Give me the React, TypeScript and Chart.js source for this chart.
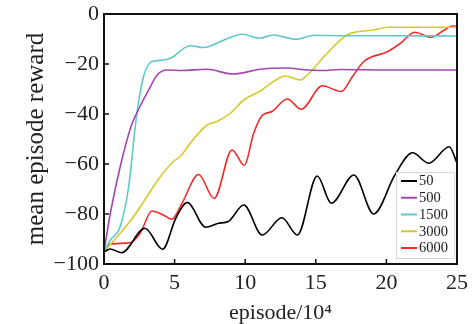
import React, { useEffect, useRef } from "react";
import { Chart, registerables } from "chart.js";

Chart.register(...registerables);

const seriesLabels = ["50", "500", "1500", "3000", "6000"];
const seriesColors = ["#000000", "#a446ad", "#5ec9c9", "#d6c92e", "#f42a2a"];

const x50 = [0, 0.43, 1.25, 2.9, 4.15, 5.1, 5.9, 7.2, 8.1, 8.8, 9.9, 11.2, 12.6, 13.7, 15.1, 16.1, 17.7, 19.1, 20.6, 21.85, 23.0, 24.45, 25];
const y50 = [-95.3, -94.0, -95.5, -85.7, -94.1, -81.5, -75.4, -85.3, -83.7, -83.0, -76.4, -88.4, -81.5, -88.4, -64.8, -75.7, -64.4, -80.0, -64.4, -55.5, -59.7, -53.1, -59.6];

const x500 = [0, 0.45, 1.15, 1.95, 2.55, 3.2, 3.75, 4.45, 5.5, 7.3, 9.1, 11.2, 13.0, 14.0, 15.5, 16.7, 20, 25];
const y500 = [-95, -79.7, -61, -44.4, -37, -30, -24.5, -22.4, -22.6, -22.1, -24, -22, -21.6, -22.2, -22.6, -22.2, -22.4, -22.4];

const x1500 = [0, 0.45, 1.15, 1.75, 2.3, 2.8, 3.3, 3.6, 4.7, 6.1, 7.05, 8.5, 9.8, 11.0, 12.0, 13.6, 14.9, 17, 20, 25];
const y1500 = [-95, -90.4, -85, -69, -41, -25, -19.3, -18.8, -17.7, -12.7, -13.4, -10.4, -8.1, -9.7, -8.4, -10.1, -8.5, -8.7, -8.7, -8.8];

const x3000 = [0, 1.15, 2.1, 4.0, 4.92, 5.4, 6.2, 7.3, 8.0, 8.95, 9.9, 11.1, 12.0, 12.85, 13.9, 14.4, 15.8, 17.2, 17.95, 19.1, 20.1, 25];
const y3000 = [-95, -87.7, -81, -65, -59, -57, -51, -44.4, -43, -39.7, -34.4, -30.7, -27, -24.8, -26.4, -24.4, -15.7, -8.4, -7.1, -6.4, -5.3, -5.3];

const x6000 = [0, 0.43, 1.85, 2.56, 3.4, 4.2, 4.8, 5.5, 6.7, 7.8, 9.07, 9.94, 10.6, 11.2, 11.9, 12.97, 13.97, 15.46, 16.8, 17.6, 18.4, 20.1, 21.0, 22.0, 23.15, 24.1, 24.7, 25];
const y6000 = [-95, -92.1, -91.5, -87.7, -78.8, -80.4, -82.1, -76, -64.2, -73.8, -54.4, -60.5, -47.7, -40.6, -39, -34, -38.1, -28.7, -31, -25, -19, -15, -11.7, -7.3, -9.3, -6.4, -4.7, -5];

const xTickValues = [0, 5, 10, 15, 20, 25];
const yTickValues = [0, -20, -40, -60, -80, -100];

const seriesX = [x50, x500, x1500, x3000, x6000];
const seriesY = [y50, y500, y1500, y3000, y6000];

const FONT = "'Liberation Serif', 'Times New Roman', serif";

const framePlugin = {
  id: "frameAndLegend",
  afterDatasetsDraw(chart: any) {
    const { ctx, chartArea: a, scales } = chart;
    ctx.save();
    // inward ticks
    ctx.strokeStyle = "#111";
    ctx.lineWidth = 1.5;
    ctx.beginPath();
    for (const v of xTickValues) {
      const px = scales.x.getPixelForValue(v);
      ctx.moveTo(px, a.bottom);
      ctx.lineTo(px, a.bottom - 5);
    }
    for (const v of yTickValues) {
      const py = scales.y.getPixelForValue(v);
      ctx.moveTo(a.left, py);
      ctx.lineTo(a.left + 5, py);
    }
    ctx.stroke();
    // frame
    ctx.lineWidth = 2;
    ctx.strokeStyle = "#111";
    ctx.strokeRect(a.left, a.top, a.right - a.left, a.bottom - a.top);

    // legend
    const bw = 59;
    const bh = 87;
    const bx = a.right - 2 - bw;
    const by = a.bottom - 5 - bh;
    ctx.fillStyle = "#ffffff";
    ctx.fillRect(bx, by, bw, bh);
    ctx.strokeStyle = "#d8d8d8";
    ctx.lineWidth = 1;
    ctx.strokeRect(bx + 0.5, by + 0.5, bw - 1, bh - 1);
    ctx.font = `14.5px ${FONT}`;
    ctx.textBaseline = "middle";
    ctx.textAlign = "left";
    chart.data.datasets.forEach((ds: any, i: number) => {
      const cy = by + 9 + i * 16.75;
      ctx.strokeStyle = ds.borderColor;
      ctx.lineWidth = 2;
      ctx.beginPath();
      ctx.moveTo(bx + 5, cy);
      ctx.lineTo(bx + 21, cy);
      ctx.stroke();
      ctx.fillStyle = "#222";
      ctx.fillText(ds.label, bx + 23, cy + 0.5);
    });
    ctx.restore();
  },
};

export default function App() {
  const ref = useRef<HTMLCanvasElement>(null);

  useEffect(() => {
    if (!ref.current) return;
    const datasets = seriesLabels.map((label, i) => ({
      label,
      data: seriesX[i].map((x, j) => ({ x, y: seriesY[i][j] })),
      borderColor: seriesColors[i],
      backgroundColor: seriesColors[i],
      borderWidth: 1.6,
      pointRadius: 0,
      cubicInterpolationMode: "monotone" as const,
      fill: false,
    }));
    const chart = new Chart(ref.current, {
      type: "line",
      data: { datasets },
      plugins: [framePlugin],
      options: {
        responsive: false,
        animation: false,
        layout: { padding: { top: 14, right: 19, left: 0, bottom: 0 } },
        plugins: {
          legend: { display: false },
          tooltip: { enabled: false },
        },
        scales: {
          x: {
            type: "linear",
            min: 0,
            max: 25,
            grid: { display: false, drawTicks: false },
            border: { display: false },
            ticks: {
              stepSize: 5,
              padding: 6,
              color: "#222",
              font: { family: FONT, size: 22 },
              maxRotation: 0,
              autoSkip: false,
            },
            title: {
              display: true,
              text: "episode/10⁴",
              color: "#222",
              font: { family: FONT, size: 22, lineHeight: 1 },
              padding: { top: 0, bottom: 0 },
            },
            afterFit: (s: any) => {
              s.height = 60;
              s.paddingLeft = 0;
              s.paddingRight = 0;
            },
          },
          y: {
            type: "linear",
            min: -100,
            max: 0,
            grid: { display: false, drawTicks: false },
            border: { display: false },
            ticks: {
              stepSize: 20,
              padding: 5,
              color: "#222",
              font: { family: FONT, size: 22 },
              callback: (v: any) => (v < 0 ? "\u2212" + Math.abs(v) : String(v)),
            },
            title: {
              display: true,
              text: "mean episode reward",
              color: "#222",
              font: { family: FONT, size: 25, lineHeight: 1 },
              padding: { top: 24, bottom: 0 },
            },
            afterFit: (s: any) => {
              s.width = 104;
              s.paddingTop = 0;
              s.paddingBottom = 0;
            },
          },
        },
      },
    });
    return () => chart.destroy();
  }, []);

  return (
    <div style={{ position: "absolute", left: 0, top: 0, width: 476, height: 324, background: "#fff" }}>
      <canvas ref={ref} width={476} height={324} />
    </div>
  );
}
